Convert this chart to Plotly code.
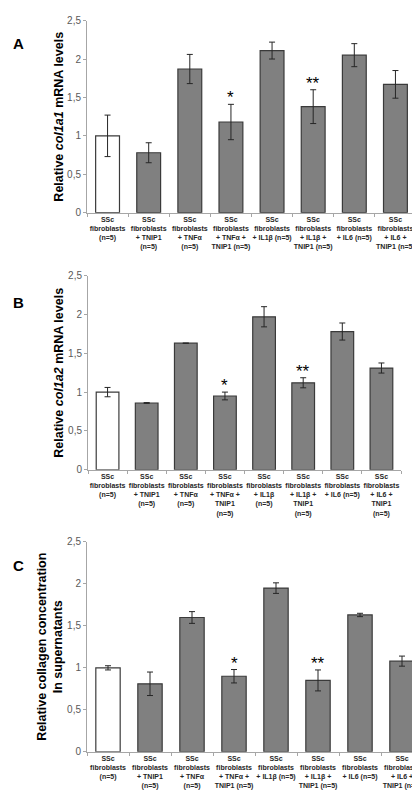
# three-panel collagen bar chart (A: col1a1, B: col1a2, C: collagen in supernatants)

import plotly.graph_objects as go

groups = ["ctrl", "tnip1", "tnf", "tnf_tnip1", "il1b", "il1b_tnip1", "il6", "il6_tnip1"]

labels_a = [
    "SSc<br>fibroblasts<br>(n=5)",
    "SSc<br>fibroblasts<br>+ TNIP1<br>(n=5)",
    "SSc<br>fibroblasts<br>+ TNFα<br>(n=5)",
    "SSc<br>fibroblasts<br>+ TNFα +<br>TNIP1 (n=5)",
    "SSc<br>fibroblasts<br>+ IL1β (n=5)",
    "SSc<br>fibroblasts<br>+ IL1β +<br>TNIP1 (n=5)",
    "SSc<br>fibroblasts<br>+ IL6 (n=5)",
    "SSc<br>fibroblasts<br>+ IL6 +<br>TNIP1 (n=5)",
]
labels_b = [
    "SSc<br>fibroblasts<br>(n=5)",
    "SSc<br>fibroblasts<br>+ TNIP1<br>(n=5)",
    "SSc<br>fibroblasts<br>+ TNFα<br>(n=5)",
    "SSc<br>fibroblasts<br>+ TNFα +<br>TNIP1<br>(n=5)",
    "SSc<br>fibroblasts<br>+ IL1β<br>(n=5)",
    "SSc<br>fibroblasts<br>+ IL1β +<br>TNIP1<br>(n=5)",
    "SSc<br>fibroblasts<br>+ IL6 (n=5)",
    "SSc<br>fibroblasts<br>+ IL6 +<br>TNIP1<br>(n=5)",
]
labels_c = labels_a

col1a1 = [1.00, 0.78, 1.87, 1.18, 2.11, 1.38, 2.05, 1.67]
col1a1_err = [0.27, 0.13, 0.19, 0.23, 0.11, 0.22, 0.15, 0.18]

col1a2 = [1.00, 0.86, 1.63, 0.95, 1.97, 1.12, 1.78, 1.31]
col1a2_err = [0.06, 0.005, 0.0, 0.05, 0.13, 0.065, 0.11, 0.065]

collagen = [1.00, 0.81, 1.60, 0.90, 1.95, 0.85, 1.63, 1.08]
collagen_err = [0.025, 0.14, 0.07, 0.08, 0.063, 0.125, 0.02, 0.06]

star_marks = ["", "", "", "*", "", "**", "", ""]

y_ticks = [0, 0.5, 1, 1.5, 2, 2.5]
y_ticktext = ["0", "0,5", "1", "1,5", "2", "2,5"]

W, H = 420, 800

# pixel boxes of each plot: (left, right, y of 0, y of 2.5)
panels = [
    dict(vals=col1a1, errs=col1a1_err, labels=labels_a, box=(79, 408, 201.7, 6.7),
         title="Relative <i>col1a1</i> mRNA levels", title_x=51, letter="A", letter_y=30),
    dict(vals=col1a2, errs=col1a2_err, labels=labels_b, box=(80, 393, 462.7, 265.6),
         title="Relative <i>col1a2</i> mRNA levels", title_x=51, letter="B", letter_y=293),
    dict(vals=collagen, errs=collagen_err, labels=labels_c, box=(79, 415, 749, 536),
         title="Relative collagen concentration<br>In supernatants", title_x=42,
         letter="C", letter_y=560),
]

fig = go.Figure()
axis_grey = "#a6a6a6"
annotations = []

for i, p in enumerate(panels):
    n = "" if i == 0 else str(i + 1)
    left, right, y0, y25 = p["box"]
    colors = ["white"] + ["#808080"] * 7
    fig.add_trace(go.Bar(
        x=groups, y=p["vals"], width=0.58,
        marker=dict(color=colors, line=dict(color="#3a3a3a", width=1.2)),
        error_y=dict(type="data", array=p["errs"], visible=True,
                     color="#262626", thickness=1, width=3),
        xaxis="x" + n, yaxis="y" + n, showlegend=False,
    ))
    fig.update_layout(**{
        "xaxis" + n: dict(
            domain=[left / W, right / W], anchor="y" + n,
            tickvals=groups, ticktext=p["labels"], tickangle=0,
            tickfont=dict(size=7, color="#262626", family="Liberation Sans", weight="bold"),
            showline=True, linecolor=axis_grey, linewidth=1,
            ticks="outside", ticklen=3, tickcolor=axis_grey, tickson="boundaries",
            showgrid=False, zeroline=False, fixedrange=True,
        ),
        "yaxis" + n: dict(
            domain=[1 - y0 / H, 1 - y25 / H], anchor="x" + n, range=[0, 2.5],
            tickvals=y_ticks, ticktext=y_ticktext,
            tickfont=dict(size=10, color="#595959", family="Liberation Sans"),
            showline=True, linecolor=axis_grey, linewidth=1,
            ticks="outside", ticklen=3, tickcolor=axis_grey,
            showgrid=False, zeroline=False, fixedrange=True,
        ),
    })
    annotations.append(dict(
        text=p["title"], textangle=-90, xref="paper", yref="paper",
        x=p["title_x"] / W, y=1 - (y0 + y25) / 2 / H, showarrow=False,
        font=dict(size=12.5, color="black", family="Liberation Sans", weight="bold"),
        xanchor="center", yanchor="middle",
    ))
    annotations.append(dict(
        text=p["letter"], xref="paper", yref="paper",
        x=3 / W, y=1 - p["letter_y"] / H, showarrow=False,
        font=dict(size=15, color="black", family="Liberation Sans", weight="bold"),
        xanchor="left", yanchor="middle",
    ))
    for g, v, e, s in zip(groups, p["vals"], p["errs"], star_marks):
        if s:
            annotations.append(dict(
                text=s, x=g, y=v + e, xref="x" + n, yref="y" + n,
                showarrow=False, yanchor="bottom", yshift=-5,
                font=dict(size=17, color="black", family="Liberation Sans"),
            ))

fig.update_layout(
    width=W, height=H, autosize=False,
    margin=dict(l=0, r=0, t=0, b=0),
    paper_bgcolor="white", plot_bgcolor="white",
    bargap=0.42, annotations=annotations,
)

fig.write_html("out.html")
